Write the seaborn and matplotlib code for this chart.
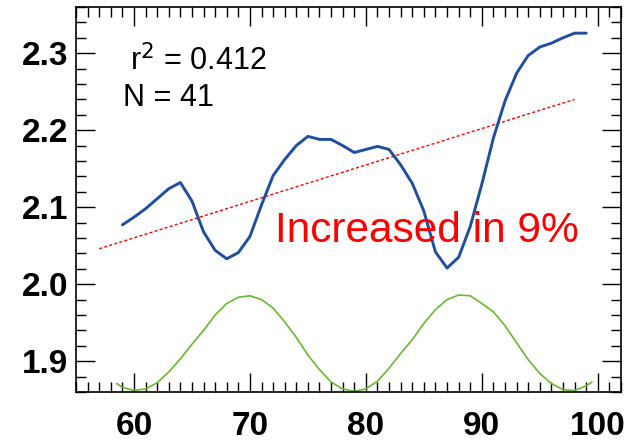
import numpy as np
import pandas as pd
import matplotlib
matplotlib.use("Agg")
import matplotlib.pyplot as plt
from matplotlib.ticker import MultipleLocator
import seaborn as sns

# Yearly index (blue), one value per year 59..99
years = list(range(59, 100))
index_values = [
    2.077, 2.087, 2.098, 2.111, 2.124, 2.132, 2.108, 2.068, 2.044, 2.033,
    2.041, 2.062, 2.103, 2.141, 2.162, 2.180, 2.192, 2.188, 2.188, 2.180,
    2.171, 2.175, 2.179, 2.175, 2.155, 2.131, 2.095, 2.042, 2.021, 2.035,
    2.075, 2.130, 2.190, 2.238, 2.274, 2.297, 2.308, 2.313, 2.320, 2.326,
    2.326,
]

# Cyclic reference curve (green)
cycle_x = [58.5] + list(range(59, 100)) + [99.5]
cycle_values = [
    1.871, 1.866, 1.862, 1.864, 1.872, 1.886, 1.903, 1.922, 1.940, 1.960,
    1.975, 1.983, 1.985, 1.980, 1.969, 1.951, 1.931, 1.908, 1.889, 1.873,
    1.864, 1.861, 1.864, 1.874, 1.891, 1.910, 1.928, 1.949, 1.967, 1.980,
    1.986, 1.985, 1.975, 1.964, 1.946, 1.924, 1.902, 1.884, 1.871, 1.863,
    1.862, 1.868, 1.873,
]

# Linear trend (red dashed)
trend_x = [57, 98]
trend_y = [2.046, 2.240]

x_ticks = [60, 70, 80, 90, 100]
y_ticks = [1.9, 2.0, 2.1, 2.2, 2.3]

sns.set_style("ticks")
plt.rcParams["font.family"] = ["Liberation Sans", "DejaVu Sans"]
plt.rcParams["text.color"] = "black"
plt.rcParams["xtick.color"] = "black"
plt.rcParams["ytick.color"] = "black"

fig = plt.figure(figsize=(6.27, 4.42), dpi=100)
ax = fig.add_axes([0.1212, 0.1131, 0.8692, 0.8711])

df_index = pd.DataFrame({"x": years, "y": index_values})
df_cycle = pd.DataFrame({"x": cycle_x, "y": cycle_values})
df_trend = pd.DataFrame({"x": trend_x, "y": trend_y})

sns.lineplot(data=df_cycle, x="x", y="y", ax=ax, color="#6ab82e", lw=1.2)
sns.lineplot(data=df_trend, x="x", y="y", ax=ax, color="#ff0000", lw=1.0,
             linestyle=(0, (2.2, 1.6)))
sns.lineplot(data=df_index, x="x", y="y", ax=ax, color="#1f4e9e", lw=2.1)

ax.set_xlim(55, 102)
ax.set_ylim(1.86, 2.36)
ax.set_xticks(x_ticks)
ax.set_yticks(y_ticks)
ax.set_xticklabels([str(t) for t in x_ticks])
ax.set_yticklabels([f"{t:.1f}" for t in y_ticks])
ax.xaxis.set_minor_locator(MultipleLocator(1))
ax.yaxis.set_minor_locator(MultipleLocator(0.02))
ax.set_xlabel("")
ax.set_ylabel("")

ax.tick_params(which="both", direction="in", top=True, right=True,
               color="black", labelcolor="black", width=1.0)
ax.tick_params(which="major", length=14)
ax.tick_params(which="minor", length=7)
ax.tick_params(axis="x", which="major", pad=13.5)
ax.tick_params(axis="y", which="major", pad=5.5)
for lab in ax.get_xticklabels() + ax.get_yticklabels():
    lab.set_fontsize(24)
    lab.set_fontweight("bold")
    lab.set_color("black")

for sp in ax.spines.values():
    sp.set_visible(True)
    sp.set_linewidth(1.2)
    sp.set_color("black")

ax.text(0.099, 0.836, r"r$^2$ = 0.412", transform=ax.transAxes,
        fontsize=22, color="black", ha="left", va="baseline")
ax.text(0.086, 0.743, "N = 41", transform=ax.transAxes,
        fontsize=22, color="black", ha="left", va="baseline")
ax.text(0.366, 0.39, "Increased in 9%", transform=ax.transAxes,
        fontsize=30.5, color="#ff0000", ha="left", va="baseline")

fig.savefig("out.png", dpi=100)
